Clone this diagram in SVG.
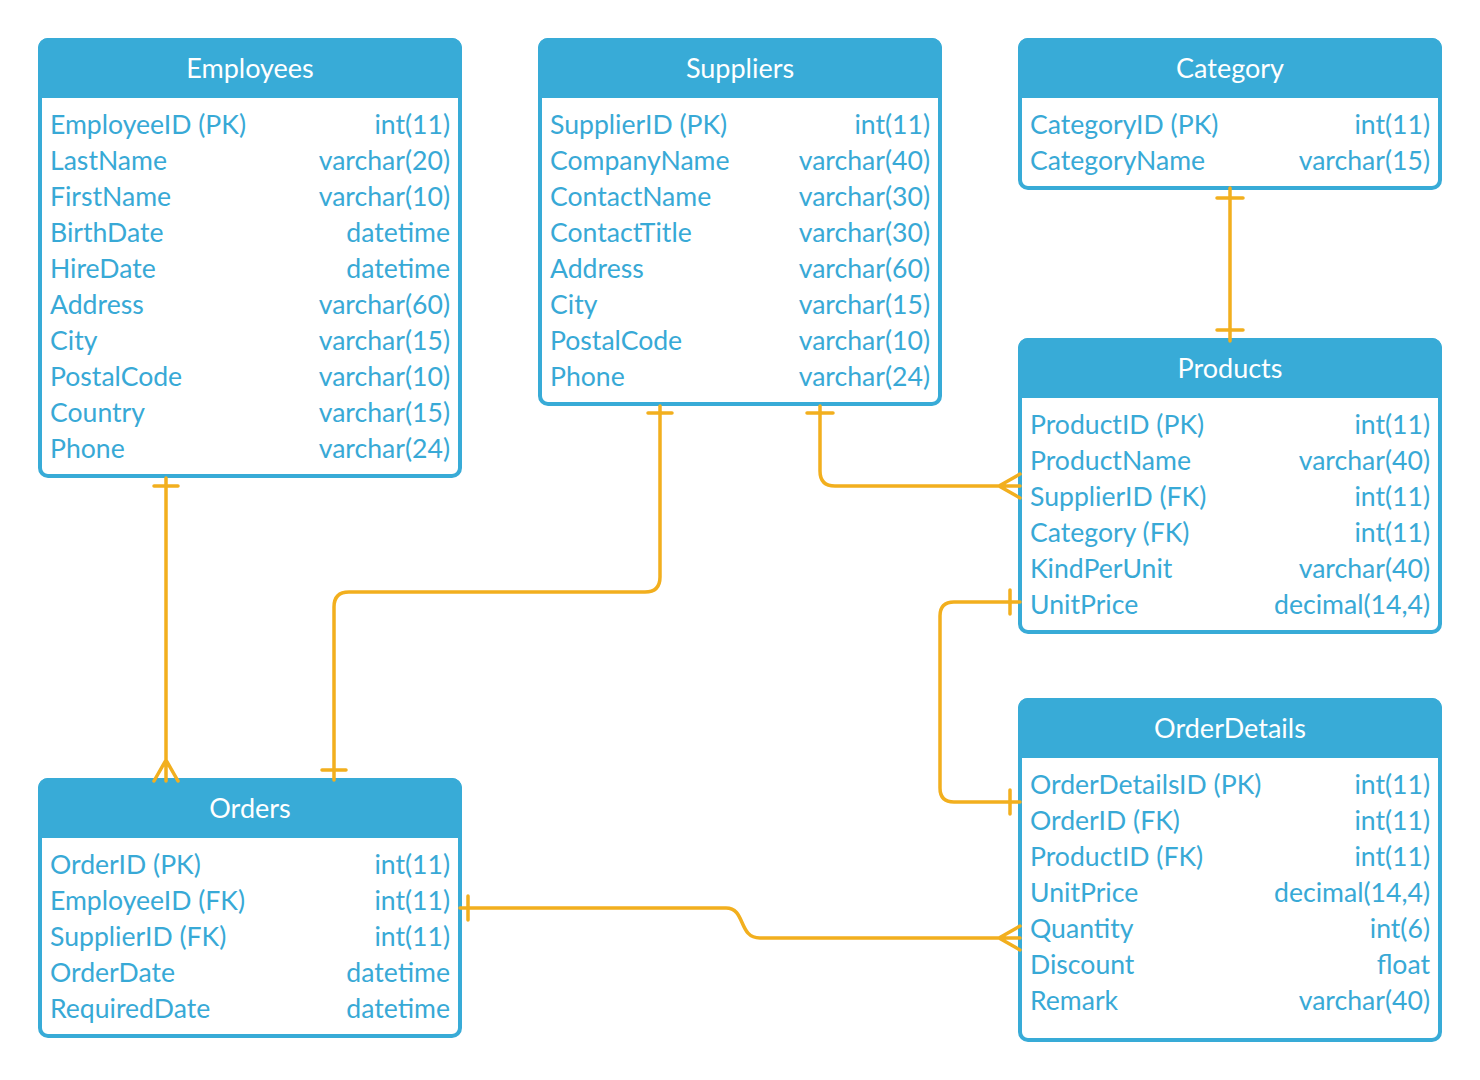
<svg xmlns="http://www.w3.org/2000/svg" width="1480" height="1080" viewBox="0 0 1480 1080">
<style>
.box{fill:#ffffff;stroke:#38ABD7;stroke-width:4}
.hd{fill:#38ABD7;stroke:#38ABD7;stroke-width:4}
.title{font-family:Lato,"Liberation Sans",sans-serif;font-size:27px;fill:#ffffff;text-anchor:middle}
.f{font-family:Lato,"Liberation Sans",sans-serif;font-size:26.6px;fill:#38A9D6}
.t{font-family:Lato,"Liberation Sans",sans-serif;font-size:26.6px;fill:#38A9D6;text-anchor:end}
.c{fill:none;stroke:#F2AF1E;stroke-width:3.5;stroke-linecap:round;stroke-linejoin:round}
</style>
<rect width="1480" height="1080" fill="#ffffff"/>

<g id="Employees">
<rect class="box" x="40" y="40" width="420" height="436" rx="8"/>
<path class="hd" d="M40,96 V48 A8,8 0 0 1 48,40 H452 A8,8 0 0 1 460,48 V96 Z"/>
<text class="title" x="250" y="78">Employees</text>
<text class="f" x="50" y="134">EmployeeID (PK)</text><text class="t" x="450" y="134">int(11)</text>
<text class="f" x="50" y="170">LastName</text><text class="t" x="450" y="170">varchar(20)</text>
<text class="f" x="50" y="206">FirstName</text><text class="t" x="450" y="206">varchar(10)</text>
<text class="f" x="50" y="242">BirthDate</text><text class="t" x="450" y="242">datetime</text>
<text class="f" x="50" y="278">HireDate</text><text class="t" x="450" y="278">datetime</text>
<text class="f" x="50" y="314">Address</text><text class="t" x="450" y="314">varchar(60)</text>
<text class="f" x="50" y="350">City</text><text class="t" x="450" y="350">varchar(15)</text>
<text class="f" x="50" y="386">PostalCode</text><text class="t" x="450" y="386">varchar(10)</text>
<text class="f" x="50" y="422">Country</text><text class="t" x="450" y="422">varchar(15)</text>
<text class="f" x="50" y="458">Phone</text><text class="t" x="450" y="458">varchar(24)</text>
</g>

<g id="Suppliers">
<rect class="box" x="540" y="40" width="400" height="364" rx="8"/>
<path class="hd" d="M540,96 V48 A8,8 0 0 1 548,40 H932 A8,8 0 0 1 940,48 V96 Z"/>
<text class="title" x="740" y="78">Suppliers</text>
<text class="f" x="550" y="134">SupplierID (PK)</text><text class="t" x="930" y="134">int(11)</text>
<text class="f" x="550" y="170">CompanyName</text><text class="t" x="930" y="170">varchar(40)</text>
<text class="f" x="550" y="206">ContactName</text><text class="t" x="930" y="206">varchar(30)</text>
<text class="f" x="550" y="242">ContactTitle</text><text class="t" x="930" y="242">varchar(30)</text>
<text class="f" x="550" y="278">Address</text><text class="t" x="930" y="278">varchar(60)</text>
<text class="f" x="550" y="314">City</text><text class="t" x="930" y="314">varchar(15)</text>
<text class="f" x="550" y="350">PostalCode</text><text class="t" x="930" y="350">varchar(10)</text>
<text class="f" x="550" y="386">Phone</text><text class="t" x="930" y="386">varchar(24)</text>
</g>

<g id="Category">
<rect class="box" x="1020" y="40" width="420" height="148" rx="8"/>
<path class="hd" d="M1020,96 V48 A8,8 0 0 1 1028,40 H1432 A8,8 0 0 1 1440,48 V96 Z"/>
<text class="title" x="1230" y="78">Category</text>
<text class="f" x="1030" y="134">CategoryID (PK)</text><text class="t" x="1430" y="134">int(11)</text>
<text class="f" x="1030" y="170">CategoryName</text><text class="t" x="1430" y="170">varchar(15)</text>
</g>

<g id="Products">
<rect class="box" x="1020" y="340" width="420" height="292" rx="8"/>
<path class="hd" d="M1020,396 V348 A8,8 0 0 1 1028,340 H1432 A8,8 0 0 1 1440,348 V396 Z"/>
<text class="title" x="1230" y="378">Products</text>
<text class="f" x="1030" y="434">ProductID (PK)</text><text class="t" x="1430" y="434">int(11)</text>
<text class="f" x="1030" y="470">ProductName</text><text class="t" x="1430" y="470">varchar(40)</text>
<text class="f" x="1030" y="506">SupplierID (FK)</text><text class="t" x="1430" y="506">int(11)</text>
<text class="f" x="1030" y="542">Category (FK)</text><text class="t" x="1430" y="542">int(11)</text>
<text class="f" x="1030" y="578">KindPerUnit</text><text class="t" x="1430" y="578">varchar(40)</text>
<text class="f" x="1030" y="614">UnitPrice</text><text class="t" x="1430" y="614">decimal(14,4)</text>
</g>

<g id="OrderDetails">
<rect class="box" x="1020" y="700" width="420" height="340" rx="8"/>
<path class="hd" d="M1020,756 V708 A8,8 0 0 1 1028,700 H1432 A8,8 0 0 1 1440,708 V756 Z"/>
<text class="title" x="1230" y="738">OrderDetails</text>
<text class="f" x="1030" y="794">OrderDetailsID (PK)</text><text class="t" x="1430" y="794">int(11)</text>
<text class="f" x="1030" y="830">OrderID (FK)</text><text class="t" x="1430" y="830">int(11)</text>
<text class="f" x="1030" y="866">ProductID (FK)</text><text class="t" x="1430" y="866">int(11)</text>
<text class="f" x="1030" y="902">UnitPrice</text><text class="t" x="1430" y="902">decimal(14,4)</text>
<text class="f" x="1030" y="938">Quantity</text><text class="t" x="1430" y="938">int(6)</text>
<text class="f" x="1030" y="974">Discount</text><text class="t" x="1430" y="974">float</text>
<text class="f" x="1030" y="1010">Remark</text><text class="t" x="1430" y="1010">varchar(40)</text>
</g>

<g id="Orders">
<rect class="box" x="40" y="780" width="420" height="256" rx="8"/>
<path class="hd" d="M40,836 V788 A8,8 0 0 1 48,780 H452 A8,8 0 0 1 460,788 V836 Z"/>
<text class="title" x="250" y="818">Orders</text>
<text class="f" x="50" y="874">OrderID (PK)</text><text class="t" x="450" y="874">int(11)</text>
<text class="f" x="50" y="910">EmployeeID (FK)</text><text class="t" x="450" y="910">int(11)</text>
<text class="f" x="50" y="946">SupplierID (FK)</text><text class="t" x="450" y="946">int(11)</text>
<text class="f" x="50" y="982">OrderDate</text><text class="t" x="450" y="982">datetime</text>
<text class="f" x="50" y="1018">RequiredDate</text><text class="t" x="450" y="1018">datetime</text>
</g>

<g id="connectors">
<path class="c" d="M166,478 V781 M154,486 H178 M154,781 L166,760 L178,781"/>
<path class="c" d="M660,406 V577 Q660,592 645,592 H349 Q334,592 334,607 V780 M648,413 H672 M322,770 H346"/>
<path class="c" d="M820,406 V471 Q820,486 835,486 H1020 M807,413 H833 M1020,474 L999,486 L1020,498"/>
<path class="c" d="M1230,188 V341 M1217,198 H1243 M1217,330 H1243"/>
<path class="c" d="M1020,602 H954 Q940,602 940,616 V788 Q940,802 954,802 H1020 M1010,590 V614 M1010,790 V814"/>
<path class="c" d="M460,908 H726 C746,908 738,938 760,938 H1020 M468,896 V920 M1020,926 L999,938 L1020,950"/>
</g>
</svg>
